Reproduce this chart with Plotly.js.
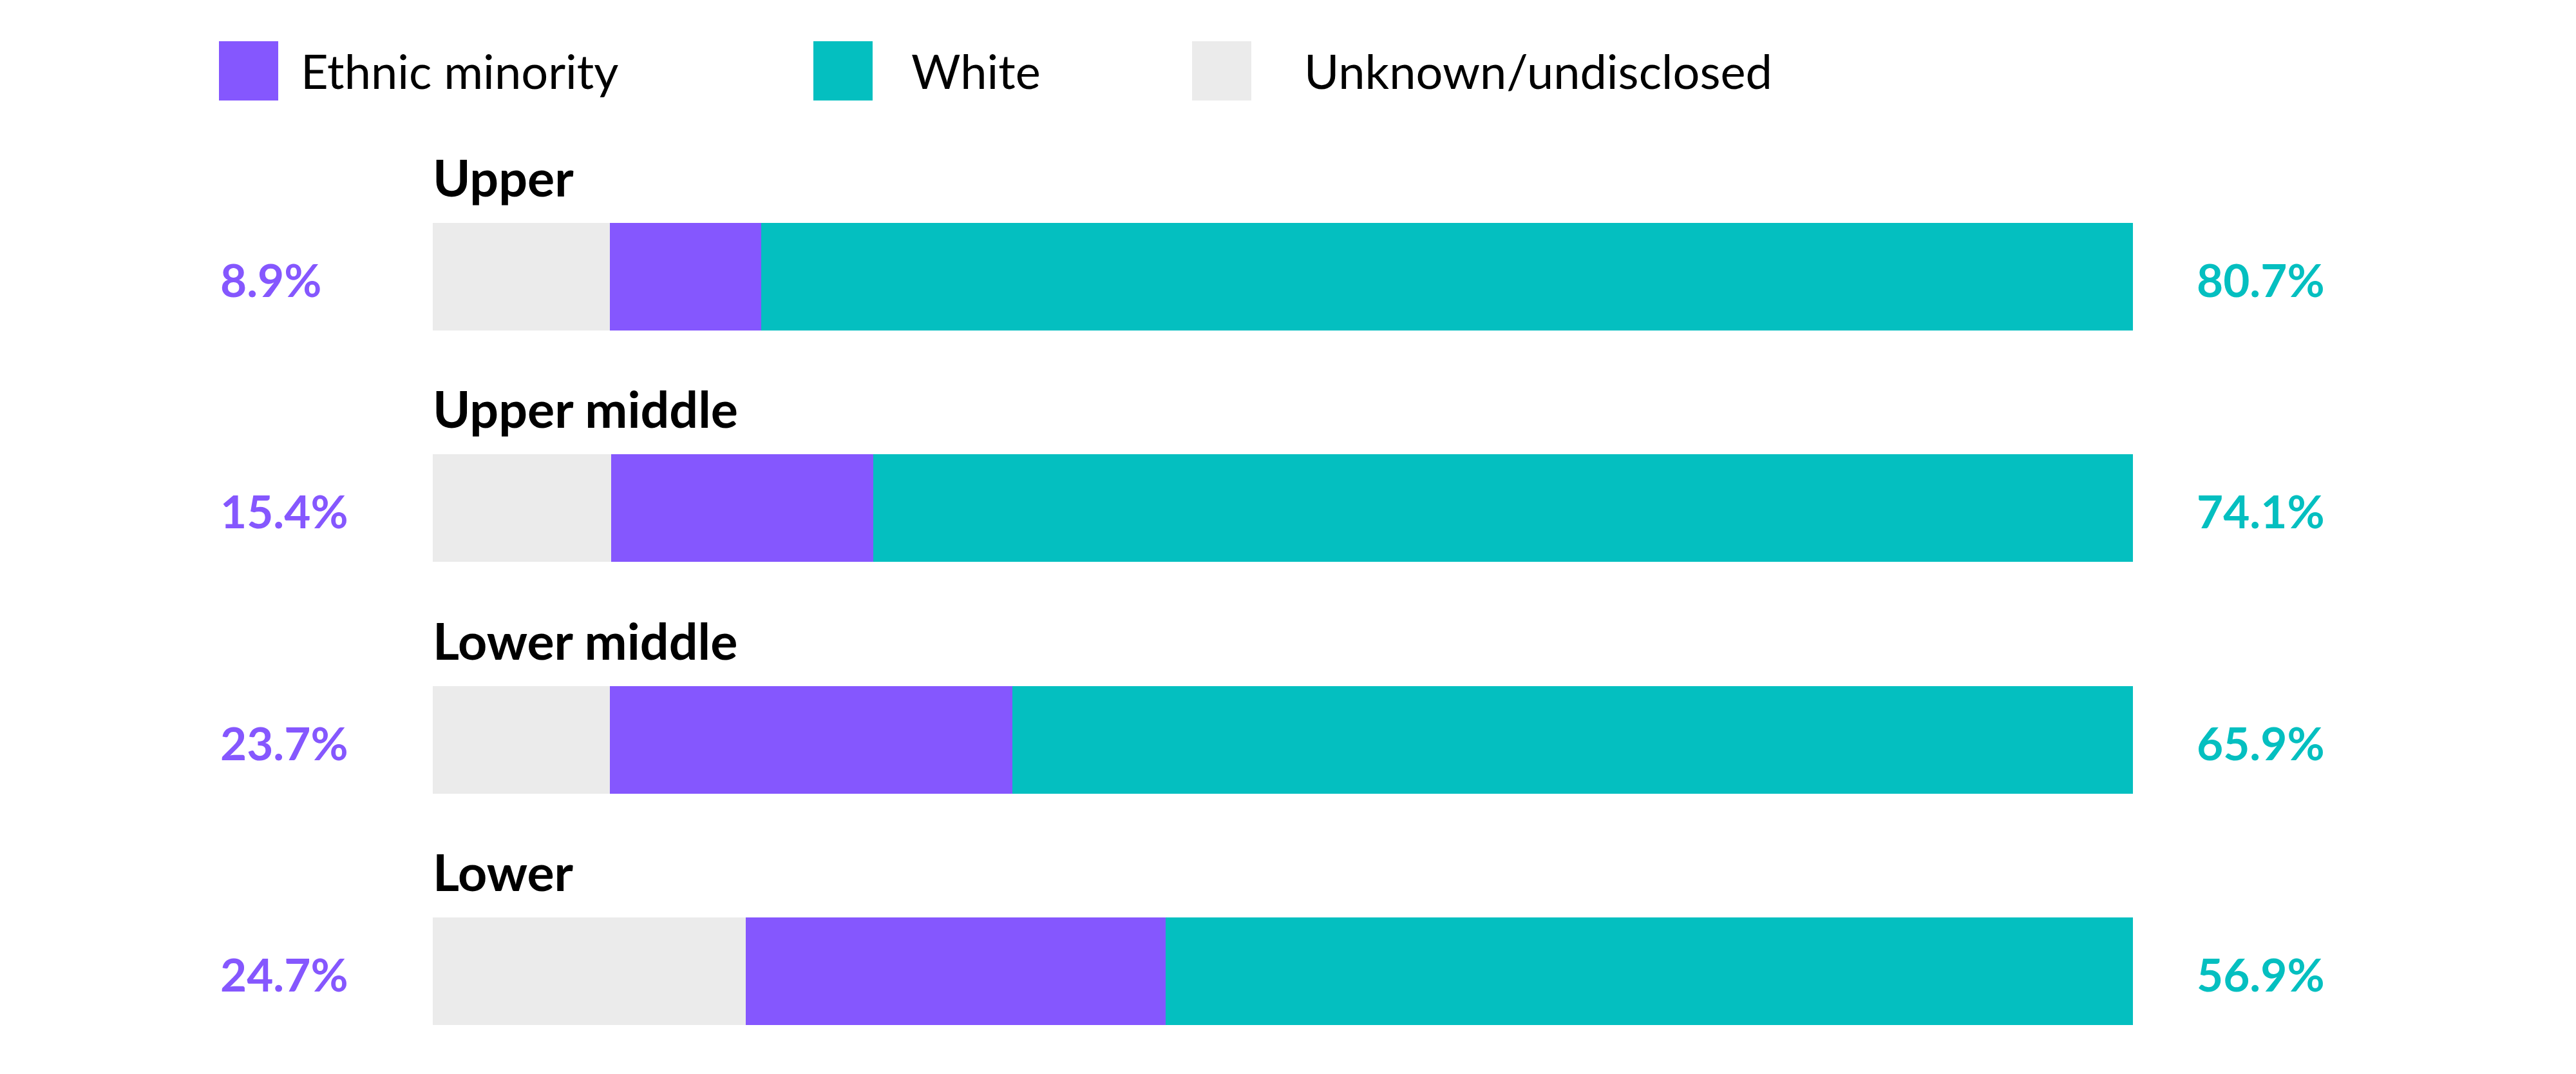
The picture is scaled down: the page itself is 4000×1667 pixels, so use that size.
<!DOCTYPE html>
<html>
<head>
<meta charset="utf-8">
<script src="https://cdn.plot.ly/plotly-3.0.1.min.js"></script>
<style>
  html, body { margin: 0; padding: 0; background: #fff; }
</style>
</head>
<body>
<div id="chart"></div>
<script>
const bands = ["Upper", "Upper middle", "Lower middle", "Lower"];
const unknown = [10.4, 10.5, 10.4, 18.4];
const minority = [8.9, 15.4, 23.7, 24.7];
const white = [80.7, 74.1, 65.9, 56.9];

const PURPLE = "#8557FE";
const TEAL = "#04BFC0";
const GREY = "#EBEBEB";
const FONT = "Lato, 'Open Sans', sans-serif";

const series = [
    {name: "Unknown/undisclosed", x: unknown, color: GREY},
    {name: "Ethnic minority", x: minority, color: PURPLE},
    {name: "White", x: white, color: TEAL},
];

const traces = series.map(s => ({
    type: "bar",
    orientation: "h",
    name: s.name,
    x: s.x,
    y: bands,
    width: 0.465,
    marker: {color: s.color, line: {width: 0}},
    hoverinfo: "skip",
}));

const annotations = [];
bands.forEach((b, i) => {
    annotations.push({
        x: 0, y: b, xref: "x", yref: "y",
        text: "<b>" + b + "</b>",
        showarrow: false, xanchor: "left", yanchor: "middle",
        xshift: -2, yshift: 155,
        font: {family: FONT, size: 79, color: "#000"},
    });
    annotations.push({
        x: -0.1258, y: b, xref: "paper", yref: "y",
        text: "<b>" + minority[i].toFixed(1) + "%</b>",
        showarrow: false, xanchor: "left", yanchor: "middle",
        yshift: -4,
        font: {family: FONT, size: 71, color: PURPLE},
    });
    annotations.push({
        x: 1.0367, y: b, xref: "paper", yref: "y",
        text: "<b>" + white[i].toFixed(1) + "%</b>",
        showarrow: false, xanchor: "left", yanchor: "middle",
        yshift: -4,
        font: {family: FONT, size: 71, color: TEAL},
    });
});

// legend drawn by hand so the swatches can be large
const legend = [
    {label: "Ethnic minority", color: PURPLE, x0: -0.12576, x1: -0.0909, tx: -0.0784},
    {label: "White", color: TEAL, x0: 0.22386, x1: 0.25871, tx: 0.28068},
    {label: "Unknown/undisclosed", color: GREY, x0: 0.44659, x1: 0.48144, tx: 0.51174},
];
const shapes = legend.map(l => ({
    type: "rect", xref: "paper", yref: "paper",
    x0: l.x0, x1: l.x1, y0: 1.0671, y1: 1.1329,
    fillcolor: l.color, line: {width: 0},
}));
legend.forEach(l => annotations.push({
    x: l.tx, y: 1.1, xref: "paper", yref: "paper",
    text: l.label, showarrow: false, xanchor: "left", yanchor: "middle",
    font: {family: FONT, size: 74, color: "#000"},
}));

Plotly.newPlot("chart", traces, {
    width: 4000,
    height: 1667,
    barmode: "stack",
    showlegend: false,
    hovermode: false,
    paper_bgcolor: "#fff",
    plot_bgcolor: "#fff",
    margin: {l: 672, r: 688, t: 250, b: 17},
    xaxis: {range: [0, 100], visible: false, fixedrange: true},
    yaxis: {
        type: "category",
        range: [3.398, -0.501],
        visible: false,
        fixedrange: true,
    },
    annotations,
    shapes,
}, {displayModeBar: false, staticPlot: true});
</script>
</body>
</html>
